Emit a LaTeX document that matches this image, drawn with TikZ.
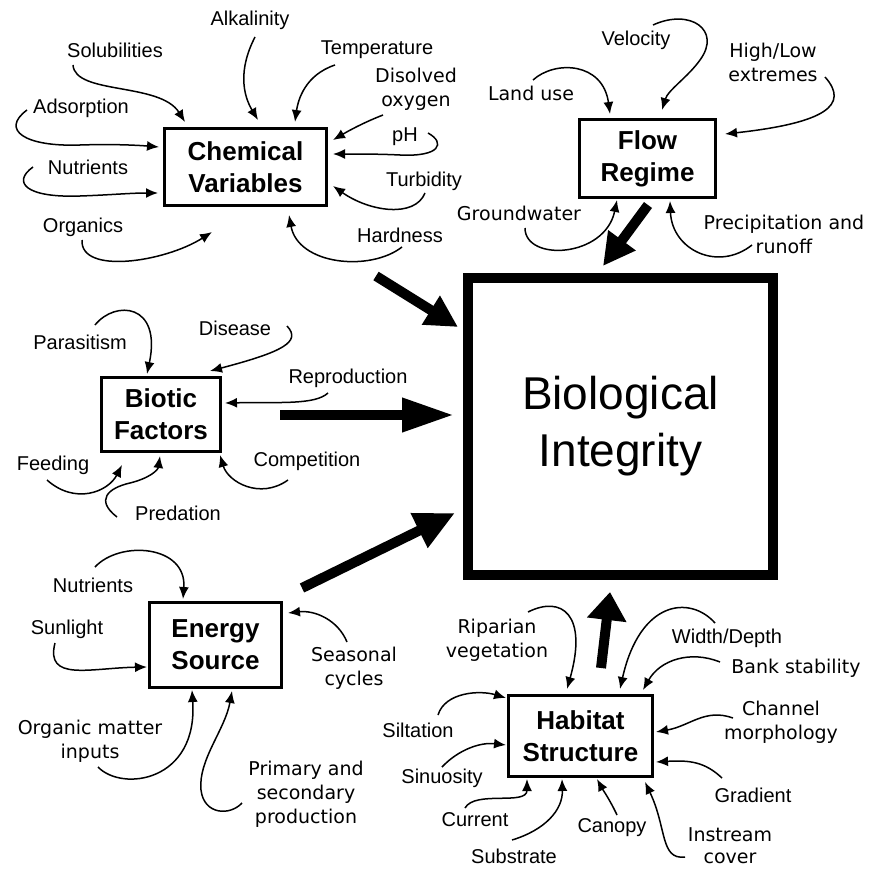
\documentclass[tikz,border=0pt]{standalone}
\usepackage{fontspec}
\setmainfont{Liberation Sans}
\newfontfamily\widefont{DejaVu Sans}
\usetikzlibrary{arrows.meta}
\tikzset{
  lab/.style={font=\fontsize{20}{23}\selectfont, inner sep=0pt, align=center},
  wlab/.style={font=\widefont\fontsize{19}{24}\selectfont, inner sep=0pt, align=center},
  factor/.style={draw, line width=3pt, font=\bfseries\fontsize{26}{32}\selectfont, align=center, inner sep=0pt},
  sa/.style={line width=1.5pt, -{Latex[length=12pt,width=10pt]}},
}
\begin{document}
\begin{tikzpicture}[x=1pt,y=-1pt]
\useasboundingbox (0,0) rectangle (869,872);
% main boxes
\node[factor, minimum width=162pt, minimum height=77pt] (chem) at (245.5,167) {Chemical\\Variables};
\node[factor, minimum width=136pt, minimum height=78pt] (flow) at (647.5,158.5) {Flow\\Regime};
\node[factor, minimum width=119pt, minimum height=74pt] (biot) at (161,414.5) {Biotic\\Factors};
\node[factor, minimum width=132pt, minimum height=85pt] (ener) at (215.5,645) {Energy\\Source};
\node[factor, minimum width=144pt, minimum height=81pt] (habi) at (580.5,736) {Habitat\\Structure};
\node[draw, line width=10pt, minimum width=305pt, minimum height=297pt, inner sep=0pt, align=center,
      font=\fontsize{46}{57}\selectfont] (bi) at (620.5,426.5) {Biological\\Integrity};

% big arrows
\draw[line width=10pt, -{Triangle[length=32pt,width=32pt]}] (376,276) -- (458,327);
\draw[line width=10pt, -{Triangle[length=32pt,width=32pt]}] (648,205) -- (603,266);
\draw[line width=10pt, -{Triangle[length=52pt,width=32pt]}] (280,415) -- (454,415);
\draw[line width=10pt, -{Triangle[length=40pt,width=36pt]}] (302,588) -- (455,513);
\draw[line width=10pt, -{Triangle[length=28pt,width=38pt]}] (601,668) -- (610,592);

% Chemical variables
\node[lab] (alk) at (250,20) {Alkalinity};
\node[lab] (sol) at (115,50) {Solubilities};
\node[lab] (tem) at (377,50) {Temperature};
\node[wlab] (dis) at (416,89) {Disolved\\oxygen};
\node[lab] (ph) at (405,137) {pH};
\node[lab] (tur) at (424,181) {Turbidity};
\node[lab] (har) at (400,235) {Hardness};
\node[lab] (ads) at (81,108) {Adsorption};
\node[lab] (nut) at (88,167) {Nutrients};
\node[lab] (org) at (83,227) {Organics};
\draw[sa] (255,37) .. controls (238,70) and (243,95) .. (258,120);
\draw[sa] (73,65) .. controls (75,95) and (160,82) .. (185,122);
\draw[sa] (335,65) .. controls (305,75) and (298,100) .. (295,122);
\draw[sa] (383,115) .. controls (365,122) and (350,130) .. (333,140);
\draw[sa] (428,133) .. controls (446,143) and (440,157) .. (400,155) .. controls (380,154) and (360,154) .. (333,154);
\draw[sa] (425,193) .. controls (415,218) and (370,212) .. (333,186);
\draw[sa] (402,247) .. controls (370,272) and (298,265) .. (289,215);
\draw[sa] (82,240) .. controls (80,275) and (165,262) .. (212,232);
\draw[sa] (33,167) .. controls (12,182) and (25,198) .. (80,196) .. controls (110,195) and (130,193) .. (158,193);
\draw[sa] (27,110) .. controls (0,130) and (25,147) .. (80,145) .. controls (110,144) and (135,145) .. (159,147);

% Flow regime
\node[lab] (vel) at (636,40) {Velocity};
\node[wlab] (lan) at (531,93) {Land use};
\node[wlab] (hig) at (773,62) {High/Low\\extremes};
\node[wlab] (gro) at (519,213) {Groundwater};
\node[wlab] (pre) at (784,234) {Precipitation and\\runoff};
\draw[sa] (653,25) .. controls (690,8) and (722,30) .. (700,60) .. controls (688,77) and (668,90) .. (662,110);
\draw[sa] (533,80) .. controls (555,60) and (603,62) .. (610,114);
\draw[sa] (825,77) .. controls (850,105) and (825,123) .. (725,134);
\draw[sa] (525,228) .. controls (525,262) and (605,258) .. (617,200);
\draw[sa] (752,245) .. controls (718,272) and (672,250) .. (670,201);

% Biotic factors
\node[lab] (par) at (80,342) {Parasitism};
\node[lab] (dse) at (235,328) {Disease};
\node[lab] (rep) at (348,378) {Reproduction};
\node[lab] (com) at (307,461) {Competition};
\node[lab] (fee) at (53,465) {Feeding};
\node[lab] (pred) at (178,513) {Predation};
\draw[sa] (95,325) .. controls (115,300) and (162,303) .. (147,374);
\draw[sa] (287,326) .. controls (302,342) and (282,352) .. (210,371);
\draw[sa] (328,393) .. controls (315,405) and (280,402) .. (225,403);
\draw[sa] (288,480) .. controls (260,500) and (228,482) .. (220,455);
\draw[sa] (47,480) .. controls (75,505) and (108,492) .. (122,465);
\draw[sa] (117,517) .. controls (95,500) and (108,488) .. (130,483) .. controls (150,478) and (158,470) .. (160,456);

% Energy source
\node[lab] (nu2) at (93,585) {Nutrients};
\node[lab] (sun) at (67,629) {Sunlight};
\node[wlab] (sea) at (354,668) {Seasonal\\cycles};
\node[wlab] (omi) at (90,741) {Organic matter\\inputs};
\node[wlab] (pri) at (306,794) {Primary and\\secondary\\production};
\draw[sa] (95,567) .. controls (120,540) and (187,545) .. (183,599);
\draw[sa] (55,643) .. controls (45,682) and (90,668) .. (147,667);
\draw[sa] (347,642) .. controls (338,620) and (315,610) .. (288,613);
\draw[sa] (98,767) .. controls (122,792) and (198,782) .. (192,690);
\draw[sa] (242,803) .. controls (230,816) and (204,815) .. (201,790) .. controls (198,760) and (225,730) .. (232,691);

% Habitat structure
\node[wlab] (rip) at (497,640) {Riparian\\vegetation};
\node[lab] (wid) at (727,638) {Width/Depth};
\node[wlab] (ban) at (796,668) {Bank stability};
\node[wlab] (cha) at (781,722) {Channel\\morphology};
\node[lab] (gra) at (753,795) {Gradient};
\node[wlab, font=\widefont\fontsize{19}{22}\selectfont] (ins) at (730,846) {Instream\\cover};
\node[lab] (can) at (612,828) {Canopy};
\node[lab] (sub) at (514,856) {Substrate};
\node[lab] (cur) at (475,820) {Current};
\node[lab] (sin) at (442,778) {Sinuosity};
\node[lab] (sil) at (418,730) {Siltation};
\draw[sa] (528,612) .. controls (562,595) and (588,615) .. (567,689);
\draw[sa] (715,623) .. controls (690,595) and (640,600) .. (620,689);
\draw[sa] (720,662) .. controls (690,650) and (660,660) .. (643,690);
\draw[sa] (733,718) .. controls (705,708) and (690,726) .. (656,732);
\draw[sa] (722,778) .. controls (705,762) and (690,760) .. (656,762);
\draw[sa] (685,857) .. controls (660,860) and (667,828) .. (645,782);
\draw[sa] (617,815) .. controls (610,800) and (603,790) .. (597,779);
\draw[sa] (512,840) .. controls (545,830) and (563,810) .. (562,779);
\draw[sa] (465,808) .. controls (475,790) and (527,806) .. (527,779);
\draw[sa] (442,767) .. controls (458,750) and (480,742) .. (506,745);
\draw[sa] (438,715) .. controls (445,692) and (480,690) .. (506,698);
\end{tikzpicture}
\end{document}
